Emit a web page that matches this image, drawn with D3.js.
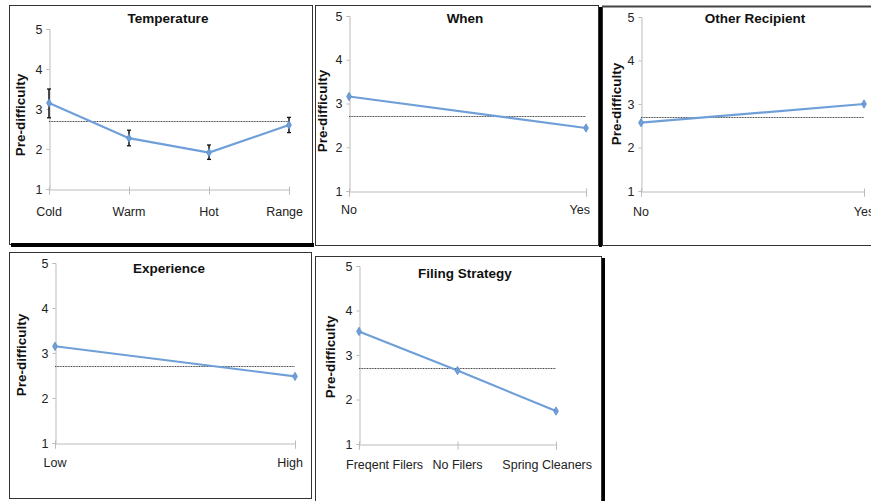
<!DOCTYPE html>
<meta charset="utf-8">
<head>
  <title>Pre-difficulty panels</title>
</head>
<style>
  body { margin: 0; background: #fff; }
  text { font-family: "Liberation Sans", Arial, sans-serif; }
</style>
<body>
  <svg width="871" height="501"></svg>
  <script src="https://cdn.jsdelivr.net/npm/d3@7"></script>
  <script>
    // data
    var yTicks = [1, 2, 3, 4, 5];
    var meanDifficulty = 2.71;

    var tempCats = ['Cold', 'Warm', 'Hot', 'Range'];
    var tempVals = [3.15, 2.27, 1.91, 2.6];
    var tempLow = [2.78, 2.08, 1.74, 2.41];
    var tempHigh = [3.5, 2.47, 2.1, 2.79];

    var whenCats = ['No', 'Yes'];
    var whenVals = [3.16, 2.44];

    var recipCats = ['No', 'Yes'];
    var recipVals = [2.57, 3.0];

    var expCats = ['Low', 'High'];
    var expVals = [3.15, 2.48];

    var filingCats = ['Freqent Filers', 'No Filers', 'Spring Cleaners'];
    var filingVals = [3.53, 2.65, 1.74];

    var svg = d3.select('svg');

    // frame boxes with the heavy shadow edges
    var frames = [
      { x: 9, y: 5, w: 303, h: 239, shadowB: true, shadowR: false },
      { x: 315, y: 5, w: 283, h: 240, shadowB: false, shadowR: true },
      { x: 602, y: 6, w: 300, h: 239, shadowB: false, shadowR: false },
      { x: 9, y: 252, w: 302, h: 246, shadowB: false, shadowR: false },
      { x: 315, y: 256, w: 286, h: 260, shadowB: false, shadowR: true }
    ];
    frames.forEach(function (f) {
      svg.append('rect')
        .attr('x', f.x + 0.5).attr('y', f.y + 0.5)
        .attr('width', f.w).attr('height', f.h)
        .attr('fill', 'none').attr('stroke', '#333').attr('stroke-width', 1);
      if (f.shadowB) {
        svg.append('rect').attr('x', f.x + 2).attr('y', f.y + f.h - 1)
          .attr('width', f.w).attr('height', 4).attr('fill', '#000');
      }
      if (f.shadowR) {
        svg.append('rect').attr('x', f.x + f.w + 1).attr('y', f.y + 2)
          .attr('width', 3).attr('height', f.h).attr('fill', '#000');
      }
    });
    // thicker top of the third frame
    svg.append('line').attr('x1', 602).attr('x2', 871).attr('y1', 6.5).attr('y2', 6.5)
      .attr('stroke', '#444').attr('stroke-width', 2);

    var panels = [
      { title: 'Temperature', cats: tempCats, vals: tempVals, lo: tempLow, hi: tempHigh,
        x0: 49, x1: 289, yTop: 29, yBot: 189, titleX: 168, titleY: 23, labX: 25, labY: 115,
        catY: 216, right: 311 },
      { title: 'When', cats: whenCats, vals: whenVals,
        x0: 349, x1: 586, yTop: 16, yBot: 191, titleX: 465, titleY: 23, labX: 327, labY: 111,
        catY: 214, right: 598 },
      { title: 'Other Recipient', cats: recipCats, vals: recipVals,
        x0: 641, x1: 864, yTop: 17, yBot: 191, titleX: 755, titleY: 23, labX: 621, labY: 104,
        catY: 216, right: 900 },
      { title: 'Experience', cats: expCats, vals: expVals,
        x0: 55, x1: 295, yTop: 263, yBot: 443, titleX: 169, titleY: 273, labX: 26, labY: 355,
        catY: 467, right: 311 },
      { title: 'Filing Strategy', cats: filingCats, vals: filingVals,
        x0: 359, x1: 556, yTop: 266, yBot: 444, titleX: 465, titleY: 278, labX: 335, labY: 357,
        catY: 469, right: 600 }
    ];

    panels.forEach(function (p) {
      var g = svg.append('g');
      var x = d3.scalePoint().domain(p.cats).range([p.x0, p.x1]);
      var y = d3.scaleLinear().domain([1, 5]).range([p.yBot, p.yTop]);

      // y axis
      var ya = g.append('g')
        .attr('transform', 'translate(' + (p.x0 + 0.5) + ',0)')
        .call(d3.axisLeft(y).tickValues(yTicks).tickSize(3).tickPadding(4).tickFormat(d3.format('d')));
      ya.select('.domain').attr('stroke', '#bbb');
      ya.selectAll('.tick line').attr('stroke', '#bbb');
      ya.selectAll('.tick text').attr('font-size', 12.5).attr('fill', '#222')
        .attr('font-family', '"Liberation Sans", Arial, sans-serif');

      // x axis
      var xa = g.append('g')
        .attr('transform', 'translate(0,' + (p.yBot + 0.5) + ')')
        .call(d3.axisBottom(x).tickSize(5).tickFormat(''));
      xa.select('.domain').attr('stroke', '#bbb');
      xa.selectAll('.tick line').attr('stroke', '#bbb').attr('y1', -3);

      g.selectAll('.cat').data(p.cats).enter().append('text')
        .attr('class', 'cat')
        .attr('x', function (d) { return x(d); })
        .attr('y', p.catY)
        .attr('text-anchor', 'middle')
        .attr('font-size', 12.5).attr('fill', '#222')
        .text(function (d) { return d; })
        .each(function (d) {
          var w = this.getComputedTextLength();
          var cx = Math.min(x(d), p.right - 8 - w / 2);
          cx = Math.max(cx, p.x0 - 13 + w / 2);
          d3.select(this).attr('x', cx);
        });

      // mean reference line
      g.append('line')
        .attr('x1', p.x0).attr('x2', p.x1)
        .attr('y1', Math.round(y(meanDifficulty)) + 0.5).attr('y2', Math.round(y(meanDifficulty)) + 0.5)
        .attr('stroke', '#444').attr('stroke-width', 1.2).attr('stroke-dasharray', '1,0.6');

      // error bars
      if (p.lo) {
        var eb = g.selectAll('.eb').data(p.cats).enter().append('g').attr('class', 'eb');
        eb.append('line')
          .attr('x1', function (d) { return x(d); }).attr('x2', function (d) { return x(d); })
          .attr('y1', function (d, i) { return y(p.lo[i]); })
          .attr('y2', function (d, i) { return y(p.hi[i]); })
          .attr('stroke', '#111').attr('stroke-width', 1.5);
        [p.lo, p.hi].forEach(function (arr) {
          eb.append('line')
            .attr('x1', function (d) { return x(d) - 2; }).attr('x2', function (d) { return x(d) + 2; })
            .attr('y1', function (d, i) { return y(arr[i]); })
            .attr('y2', function (d, i) { return y(arr[i]); })
            .attr('stroke', '#111').attr('stroke-width', 1.3);
        });
      }

      // data line
      var line = d3.line()
        .x(function (d, i) { return x(p.cats[i]); })
        .y(function (d) { return y(d); });
      g.append('path').datum(p.vals)
        .attr('d', line)
        .attr('fill', 'none').attr('stroke', '#6f9fd8').attr('stroke-width', 2.2);
      g.selectAll('.pt').data(p.vals).enter().append('path')
        .attr('class', 'pt')
        .attr('transform', function (d, i) { return 'translate(' + x(p.cats[i]) + ',' + y(d) + ')'; })
        .attr('d', d3.symbol().type(d3.symbolDiamond).size(20))
        .attr('fill', '#6f9fd8').attr('stroke', '#5b8cc8').attr('stroke-width', 0.8);

      // title and y label
      g.append('text')
        .attr('x', p.titleX).attr('y', p.titleY)
        .attr('text-anchor', 'middle')
        .attr('font-size', 13.5).attr('font-weight', 'bold').attr('fill', '#111')
        .text(p.title);
      g.append('text')
        .attr('transform', 'translate(' + p.labX + ',' + p.labY + ') rotate(-90)')
        .attr('text-anchor', 'middle')
        .attr('font-size', 13.5).attr('font-weight', 'bold').attr('fill', '#111')
        .text('Pre-difficulty');
    });
  </script>
</body>
</html>
